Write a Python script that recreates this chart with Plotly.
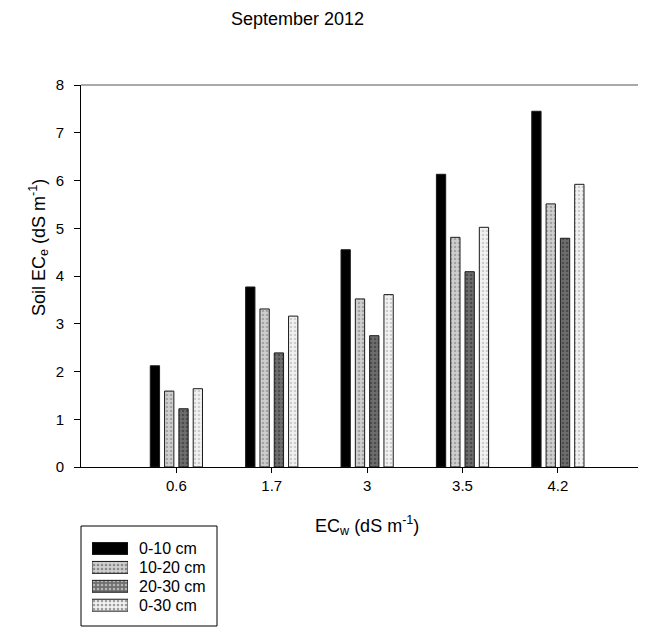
import plotly.graph_objects as go

categories = ["0.6", "1.7", "3", "3.5", "4.2"]
series_names = ["0-10 cm", "10-20 cm", "20-30 cm", "0-30 cm"]
v_0_10 = [2.12, 3.77, 4.55, 6.13, 7.45]
v_10_20 = [1.59, 3.31, 3.52, 4.81, 5.51]
v_20_30 = [1.22, 2.39, 2.75, 4.09, 4.79]
v_0_30 = [1.64, 3.16, 3.61, 5.02, 5.92]

values = [v_0_10, v_10_20, v_20_30, v_0_30]
bar_bg = ["#000000", "#cfcfcf", "#6e6e6e", "#f2f2f2"]
bar_fg = ["#000000", "#7a7a7a", "#2a2a2a", "#a8a8a8"]
bar_shape = ["", ".", ".", "."]

FONT = "Liberation Sans, Arial, sans-serif"

# Figure fills the window minus the page's 8px body margin
W, H = 630, 619
OFF = 8


def fx(win_x):
    return (win_x - OFF) / W


def fy(win_y):
    return 1 - (win_y - OFF) / H


fig = go.Figure()
for name, vals, bg, fg, shp in zip(series_names, values, bar_bg, bar_fg, bar_shape):
    fig.add_trace(go.Bar(
        x=categories, y=vals, name=name, showlegend=False,
        marker=dict(color=bg,
                    pattern=dict(shape=shp, fgcolor=fg, bgcolor=bg, size=4, solidity=0.35),
                    line=dict(color="#1a1a1a", width=1)),
        xaxis="x", yaxis="y",
    ))

# legend swatches drawn as patterned bars on a hidden helper axis
fig.add_trace(go.Bar(
    y=series_names, x=[1] * len(series_names), orientation="h", width=0.63,
    showlegend=False, hoverinfo="skip",
    marker=dict(color=bar_bg,
                pattern=dict(shape=bar_shape, fgcolor=bar_fg, bgcolor=bar_bg, size=4, solidity=0.35),
                line=dict(color="#1a1a1a", width=1)),
    xaxis="x2", yaxis="y2",
))

row_top, row_step = 548.5, 18.9
leg_y0 = row_top - row_step / 2
leg_y1 = row_top + row_step * (len(series_names) - 0.5)

fig.update_layout(
    width=W, height=H,
    margin=dict(l=0, r=0, t=0, b=0, autoexpand=False),
    paper_bgcolor="white", plot_bgcolor="white",
    font=dict(family=FONT, size=15, color="black"),
    barmode="group", bargap=0.4, bargroupgap=0.35,
    showlegend=False,
    xaxis=dict(domain=[fx(81), 1], type="category", range=[-1, 4.84], showline=True,
               linecolor="black", linewidth=1, ticks="outside", ticklen=5, tickcolor="black",
               showgrid=False, zeroline=False, tickfont=dict(size=15), automargin=False,
               anchor="y"),
    yaxis=dict(domain=[fy(467), fy(85)], range=[0, 8], dtick=1, showline=True,
               linecolor="black", linewidth=1, ticks="outside", ticklen=6, tickcolor="black",
               showgrid=False, zeroline=False, tickfont=dict(size=15), automargin=False,
               ticklabelstandoff=7, anchor="x"),
    xaxis2=dict(domain=[fx(92), fx(128)], range=[0, 1], visible=False, anchor="y2"),
    yaxis2=dict(domain=[fy(leg_y1), fy(leg_y0)], type="category",
                range=[len(series_names) - 0.5, -0.5], visible=False, anchor="x2"),
    shapes=[
        dict(type="line", xref="x domain", yref="y domain", x0=0, x1=1, y0=1, y1=1,
             line=dict(color="#555555", width=1)),
        dict(type="rect", xref="paper", yref="paper", x0=fx(81), x1=fx(217),
             y0=fy(626), y1=fy(526), line=dict(color="black", width=1),
             fillcolor="rgba(0,0,0,0)"),
    ],
    annotations=[
        dict(text="September 2012", xref="paper", yref="paper",
             x=fx(297), y=fy(19), xanchor="center", yanchor="middle",
             showarrow=False, font=dict(size=18)),
        dict(text="EC<sub>w</sub> (dS m<sup>-1</sup>)", xref="paper", yref="paper",
             x=fx(367), y=fy(525), xanchor="center", yanchor="middle",
             showarrow=False, font=dict(size=18)),
        dict(text="Soil EC<sub>e</sub> (dS m<sup>-1</sup>)", xref="paper", yref="paper",
             x=fx(38), y=fy(248), xanchor="center", yanchor="middle",
             textangle=-90, showarrow=False, font=dict(size=18)),
    ] + [
        dict(text=name, xref="paper", yref="y2", x=fx(137), y=i,
             xanchor="left", yanchor="middle", showarrow=False, font=dict(size=16))
        for i, name in enumerate(series_names)
    ],
)

fig.write_html("out.html")
